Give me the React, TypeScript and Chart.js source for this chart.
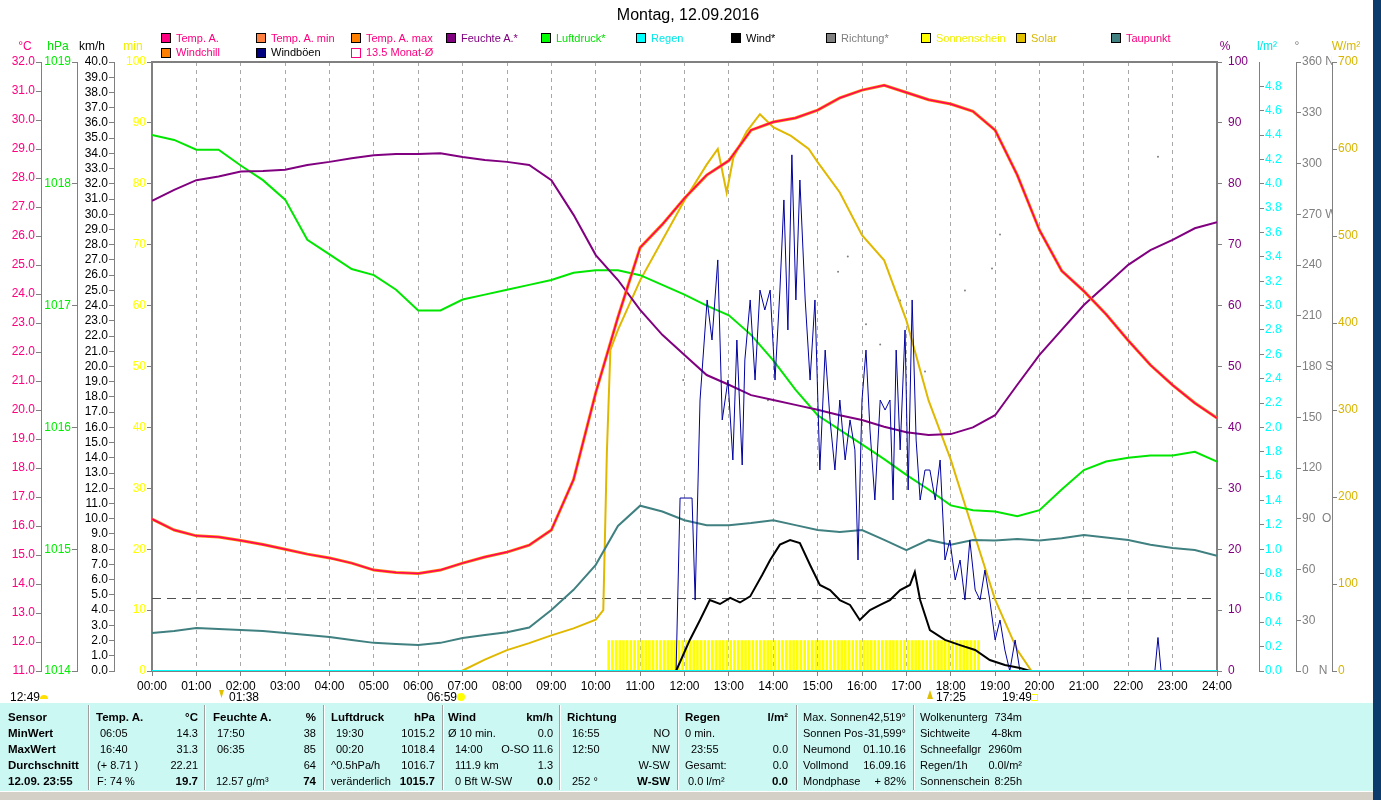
import React, { useEffect, useRef } from "react";
import { Chart, registerables } from "chart.js";
Chart.register(...registerables);

const FONT = "'Liberation Sans', Arial, sans-serif";

// ---------- DATA ----------
const hours = [0,0.5,1,1.5,2,2.5,3,3.5,4,4.5,5,5.5,6,6.5,7,7.5,8,8.5,9,9.5,10,10.5,11,11.5,12,12.5,13,13.5,14,14.5,15,15.5,16,16.5,17,17.5,18,18.5,19,19.5,20,20.5,21,21.5,22,22.5,23,23.5,24];
const tempA = [16.24,15.86,15.66,15.62,15.5,15.36,15.2,15.03,14.9,14.72,14.48,14.4,14.36,14.48,14.72,14.93,15.1,15.34,15.86,17.6,20.6,23.2,25.6,26.4,27.3,28.1,28.6,29.65,29.93,30.07,30.34,30.76,31.03,31.2,30.95,30.7,30.55,30.3,29.65,28.1,26.2,24.8,24.1,23.3,22.4,21.55,20.86,20.24,19.72];
const windchill = [16.24,15.86,15.66,15.62,15.5,15.36,15.2,15.03,14.9,14.72,14.48,14.4,14.36,14.48,14.72,14.93,15.1,15.34,15.86,17.6,20.6,23.2,25.6,26.4,27.3,28.1,28.6,29.65,29.93,30.07,30.34,30.76,31.03,31.2,30.95,30.7,30.55,30.3,29.65,28.1,26.2,24.8,24.1,23.3,22.4,21.55,20.86,20.24,19.72];
const humidity = [77.2,79,80.6,81.2,82,82.1,82.3,83.1,83.6,84.2,84.7,84.9,84.9,85,84.4,83.9,83.6,83.1,80.6,74.9,68.3,64.2,59.3,55.2,51.9,48.6,47,45.3,44.5,43.7,42.9,42,41.2,40.1,39.2,38.75,38.9,40,42,47,51.9,56,60.1,63.4,66.7,69.1,70.8,72.7,73.7];
const pressure = [1018.4,1018.36,1018.28,1018.28,1018.15,1018.03,1017.87,1017.54,1017.42,1017.3,1017.25,1017.13,1016.96,1016.96,1017.05,1017.09,1017.13,1017.17,1017.21,1017.27,1017.29,1017.29,1017.25,1017.17,1017.09,1017.0,1016.92,1016.76,1016.55,1016.31,1016.1,1015.98,1015.86,1015.74,1015.61,1015.49,1015.36,1015.32,1015.31,1015.27,1015.32,1015.49,1015.65,1015.72,1015.75,1015.77,1015.77,1015.8,1015.72];
const dewPoint = [12.31,12.38,12.48,12.45,12.41,12.38,12.31,12.24,12.17,12.07,11.97,11.93,11.9,11.97,12.14,12.24,12.34,12.5,13.1,13.8,14.66,16.0,16.7,16.5,16.2,16.03,16.03,16.1,16.2,16.03,15.86,15.79,15.86,15.52,15.17,15.52,15.35,15.52,15.5,15.55,15.5,15.58,15.69,15.6,15.52,15.35,15.24,15.17,14.97];

const solarTimes = [6.98,7.5,8,8.5,9,9.5,10,10.17,10.25,10.33,10.5,11,11.5,12,12.5,12.75,12.95,13.1,13.4,13.7,14.0,14.4,14.8,15.0,15.5,16,16.5,17,17.5,18,18.5,19,19.5,19.82];
const solarValues = [0,13,24,32,41,49,59,70,250,369,392,449,495,541,582,600,550,590,620,640,625,615,600,585,550,501,472,403,311,243,162,82,24,0];

const windTimes = [11.81,12.12,12.35,12.57,12.8,13.03,13.25,13.48,13.75,13.93,14.15,14.38,14.6,14.83,15.05,15.28,15.5,15.73,15.95,16.18,16.41,16.63,16.86,17.08,17.19,17.31,17.53,17.87,18.21,18.55,18.88,19.22,19.56,19.79];
const windValues = [0,2.04,3.35,4.66,4.4,4.8,4.5,4.9,6.3,7.29,8.3,8.6,8.4,6.96,5.65,5.32,4.66,4.34,3.35,4.0,4.34,4.66,5.32,5.65,6.5,4.66,2.69,2.04,1.7,1.38,0.72,0.39,0.2,0];

const gustTimes = [11.81,11.9,12.17,12.24,12.35,12.51,12.62,12.75,12.85,12.98,13.09,13.18,13.3,13.36,13.48,13.59,13.7,13.81,13.93,14.04,14.15,14.24,14.33,14.42,14.51,14.6,14.72,14.83,14.94,15.05,15.17,15.28,15.39,15.5,15.62,15.73,15.84,15.91,16.0,16.09,16.18,16.29,16.41,16.52,16.63,16.7,16.77,16.86,16.97,17.04,17.13,17.22,17.31,17.42,17.53,17.65,17.76,17.87,17.98,18.1,18.21,18.32,18.43,18.55,18.66,18.77,18.88,19.0,19.11,19.22,19.33,19.45,19.56,19.7,22.6,22.67,22.74];
const gustValues = [0,11.36,11.36,4.66,17.8,24.37,21.74,27.0,16.49,19.11,13.86,21.74,13.53,20.43,24.37,19.11,25.02,23.71,25.02,19.11,25.02,30.94,22.4,33.9,24.37,32.25,24.37,19.11,24.37,13.2,21.08,16.49,13.2,17.8,13.86,16.49,14.52,7.29,17.8,21.08,15.83,11.23,17.8,17.14,17.8,11.23,21.08,14.52,22.4,11.89,24.37,15.17,11.23,13.2,13.2,11.23,13.86,7.29,8.6,5.98,7.29,4.66,8.6,5.32,4.66,6.63,4.66,2.04,3.35,1.38,0,2.04,0,0,0,2.2,0];

const dirTimes = [11.97,13.88,15.46,15.68,16.09,16.41,16.86,17.42,18.32,18.93,19.11,22.67];
const dirValues = [172,160,236,245,205,193,219,177,225,238,258,304];

const rainTimes = [0, 24];
const rainValues = [0, 0];

const monthAvgTimes = [0, 24];
const monthAvgValues = [13.5, 13.5];

const sunStart = 10.25; // first 5-minute slot with sunshine
const sunshineMinutes = [5,5,5,5,5,5,5,5,5,5,5,5,5,5,5,5,5,5,5,5,5,5,5,5,5,5,5,5,5,5,5,5,5,5,5,5,5,5,5,5,5,5,5,5,5,5,5,5,5,5,5,5,5,5,5,5,5,5,5,5,5,5,5,5,5,5,5,5,5,5,5,5,5,5,5,5,5,5,5,5,5,5,5,5,5,5,5,5,5,5,5,5,5,5,5,5,5,5,5,5,5];

const dirLabels: Record<number, string> = { 360: "360 N", 270: "270 W", 180: "180 S", 90: "90  O", 0: "0   N" };

function pts(xs: number[], ys: (number | null)[]) {
  return xs.map((x, i) => ({ x, y: ys[i] }));
}

const GRAY = "#808080";

function yAxis(position: string, weight: number, min: number, max: number, step: number, color: string, width: number, fmt: (v: number) => string, tickPad = 1, borderW = 1) {
  return {
    type: "linear",
    axis: "y",
    position,
    weight,
    min,
    max,
    afterFit: (s: any) => { s.width = width; },
    ticks: { stepSize: step, autoSkip: false, color, font: { family: FONT, size: 12 }, padding: tickPad, callback: (v: any) => fmt(Number(v)) },
    grid: { drawOnChartArea: false, tickLength: 5, tickColor: GRAY, color: GRAY },
    border: { color: GRAY, width: borderW },
  };
}

const legendRow1 = [
  { x: 161, box: "#ff0080", text: "Temp. A.", color: "#ff0080" },
  { x: 256, box: "#ff8040", text: "Temp. A. min", color: "#ff0080" },
  { x: 351, box: "#ff8000", text: "Temp. A. max", color: "#ff0080" },
  { x: 446, box: "#800080", text: "Feuchte A.*", color: "#800080" },
  { x: 541, box: "#00ff00", text: "Luftdruck*", color: "#00e000" },
  { x: 636, box: "#00ffff", text: "Regen", color: "#00e8e8" },
  { x: 731, box: "#000000", text: "Wind*", color: "#000000" },
  { x: 826, box: "#808080", text: "Richtung*", color: "#808080" },
  { x: 921, box: "#ffff00", text: "Sonnenschein", color: "#f0f000" },
  { x: 1016, box: "#e0c000", text: "Solar", color: "#d8b800" },
  { x: 1111, box: "#408080", text: "Taupunkt", color: "#ff0080" },
];
const legendRow2 = [
  { x: 161, box: "#ff8000", text: "Windchill", color: "#ff0080" },
  { x: 256, box: "#000080", text: "Windböen", color: "#000000" },
  { x: 351, box: "", text: "13.5 Monat-Ø", color: "#ff0080" },
];

const unitLabels = [
  { x: 25, text: "°C", color: "#ff0080" },
  { x: 58, text: "hPa", color: "#00e000" },
  { x: 92, text: "km/h", color: "#000000" },
  { x: 133, text: "min", color: "#f0f000" },
  { x: 1225, text: "%", color: "#800080" },
  { x: 1267, text: "l/m²", color: "#00e8e8" },
  { x: 1297, text: "°", color: "#808080" },
  { x: 1346, text: "W/m²", color: "#d8b800" },
];

type Cell = [number, number, string, "L" | "R", boolean?];
const tableCells: Cell[] = [
  [8, 0, "Sensor", "L", true], [8, 1, "MinWert", "L", true], [8, 2, "MaxWert", "L", true], [8, 3, "Durchschnitt", "L", true], [8, 4, "12.09. 23:55", "L", true],
  [96, 0, "Temp. A.", "L", true], [198, 0, "°C", "R", true],
  [100, 1, "06:05", "L"], [198, 1, "14.3", "R"],
  [100, 2, "16:40", "L"], [198, 2, "31.3", "R"],
  [97, 3, "(+ 8.71 )", "L"], [198, 3, "22.21", "R"],
  [97, 4, "F: 74 %", "L"], [198, 4, "19.7", "R", true],
  [213, 0, "Feuchte A.", "L", true], [316, 0, "%", "R", true],
  [217, 1, "17:50", "L"], [316, 1, "38", "R"],
  [217, 2, "06:35", "L"], [316, 2, "85", "R"],
  [316, 3, "64", "R"],
  [216, 4, "12.57 g/m³", "L"], [316, 4, "74", "R", true],
  [331, 0, "Luftdruck", "L", true], [435, 0, "hPa", "R", true],
  [336, 1, "19:30", "L"], [435, 1, "1015.2", "R"],
  [336, 2, "00:20", "L"], [435, 2, "1018.4", "R"],
  [331, 3, "^0.5hPa/h", "L"], [435, 3, "1016.7", "R"],
  [331, 4, "veränderlich", "L"], [435, 4, "1015.7", "R", true],
  [448, 0, "Wind", "L", true], [553, 0, "km/h", "R", true],
  [448, 1, "Ø 10 min.", "L"], [553, 1, "0.0", "R"],
  [455, 2, "14:00", "L"], [553, 2, "O-SO 11.6", "R"],
  [455, 3, "111.9 km", "L"], [553, 3, "1.3", "R"],
  [455, 4, "0 Bft W-SW", "L"], [553, 4, "0.0", "R", true],
  [567, 0, "Richtung", "L", true],
  [572, 1, "16:55", "L"], [670, 1, "NO", "R"],
  [572, 2, "12:50", "L"], [670, 2, "NW", "R"],
  [670, 3, "W-SW", "R"],
  [572, 4, "252 °", "L"], [670, 4, "W-SW", "R", true],
  [685, 0, "Regen", "L", true], [788, 0, "l/m²", "R", true],
  [685, 1, "0 min.", "L"],
  [691, 2, "23:55", "L"], [788, 2, "0.0", "R"],
  [685, 3, "Gesamt:", "L"], [788, 3, "0.0", "R"],
  [688, 4, "0.0 l/m²", "L"], [788, 4, "0.0", "R", true],
  [803, 0, "Max. Sonnen", "L"], [906, 0, "42,519°", "R"],
  [803, 1, "Sonnen Pos", "L"], [906, 1, "-31,599°", "R"],
  [803, 2, "Neumond", "L"], [906, 2, "01.10.16", "R"],
  [803, 3, "Vollmond", "L"], [906, 3, "16.09.16", "R"],
  [803, 4, "Mondphase", "L"], [906, 4, "+ 82%", "R"],
  [920, 0, "Wolkenunterg", "L"], [1022, 0, "734m", "R"],
  [920, 1, "Sichtweite", "L"], [1022, 1, "4-8km", "R"],
  [920, 2, "Schneefallgr", "L"], [1022, 2, "2960m", "R"],
  [920, 3, "Regen/1h", "L"], [1022, 3, "0.0l/m²", "R"],
  [920, 4, "Sonnenschein", "L"], [1022, 4, "8:25h", "R"],
];
const tableRowsY = [717, 733, 749, 765, 781];
const tableSeparators = [88, 204, 323, 442, 559, 677, 796, 913];

export default function App() {
  const ref = useRef<HTMLCanvasElement>(null);

  useEffect(() => {
    const sunData = sunshineMinutes.map((v, i) => ({ x: sunStart + (i + 0.5) / 12, y: v }));
    const common = { pointRadius: 0, xAxisID: "x", fill: false, tension: 0 };
    const chart = new Chart(ref.current as HTMLCanvasElement, {
      type: "line",
      data: {
        datasets: [
          { ...common, type: "line", label: "Temp. A.", data: pts(hours, tempA), borderColor: "#ff0060", borderWidth: 1.5, yAxisID: "yT", order: 1 },
          { ...common, type: "line", label: "Windchill", data: pts(hours, windchill), borderColor: "#ff8000", borderWidth: 3, yAxisID: "yT", order: 2 },
          { ...common, type: "line", label: "Regen", data: pts(rainTimes, rainValues), borderColor: "#00ffff", borderWidth: 2, yAxisID: "yR", order: 3 },
          { ...common, type: "line", label: "Wind", data: pts(windTimes, windValues), borderColor: "#000000", borderWidth: 2, yAxisID: "yW", order: 4 },
          { ...common, type: "line", label: "Windböen", data: pts(gustTimes, gustValues), borderColor: "#0000a0", borderWidth: 1, yAxisID: "yW", order: 5 },
          { ...common, type: "line", label: "Feuchte", data: pts(hours, humidity), borderColor: "#800080", borderWidth: 2, yAxisID: "yH", order: 6 },
          { ...common, type: "line", label: "Luftdruck", data: pts(hours, pressure), borderColor: "#00e600", borderWidth: 2, yAxisID: "yP", order: 7 },
          { ...common, type: "line", label: "Taupunkt", data: pts(hours, dewPoint), borderColor: "#408080", borderWidth: 2, yAxisID: "yT", order: 8 },
          { ...common, type: "line", label: "Solar", data: pts(solarTimes, solarValues), borderColor: "#e0b800", borderWidth: 2, yAxisID: "yS", order: 9 },
          { type: "line", label: "Richtung", data: pts(dirTimes, dirValues), showLine: false, pointRadius: 1, pointBackgroundColor: "#808080", pointBorderColor: "#808080", pointBorderWidth: 0, xAxisID: "x", yAxisID: "yD", order: 10 },
          { ...common, type: "line", label: "Monat", data: pts(monthAvgTimes, monthAvgValues), borderColor: "#505050", borderWidth: 1, borderDash: [9, 6], yAxisID: "yT", order: 11 },
          { type: "bar", label: "Sonnenschein", data: sunData, backgroundColor: "#ffff00", barThickness: 2, grouped: false, xAxisID: "x", yAxisID: "yM", order: 12 },
        ] as any,
      },
      options: {
        responsive: false,
        animation: false,
        events: [],
        layout: { padding: { top: 62, left: 0, right: 8, bottom: 0 } },
        plugins: { legend: { display: false }, tooltip: { enabled: false }, title: { display: false } },
        scales: {
          x: {
            type: "linear", axis: "x", position: "bottom", min: 0, max: 24, offset: false,
            afterFit: (s: any) => { s.height = 29; },
            ticks: { stepSize: 1, autoSkip: false, maxRotation: 0, color: "#000", font: { family: FONT, size: 12 }, padding: 3,
              callback: (v: any) => String(v).padStart(2, "0") + ":00" },
            grid: { color: "#a8a8a8", tickLength: 5, tickColor: GRAY, drawOnChartArea: true, offset: false },
            border: { color: GRAY, width: 2, dash: [4, 4] },
          },
          xTop: {
            type: "linear", axis: "x", position: "top", min: 0, max: 24, offset: false,
            afterFit: (s: any) => { s.height = 0; },
            ticks: { display: false },
            grid: { drawOnChartArea: false, drawTicks: false, offset: false },
            border: { color: GRAY, width: 2 },
          },
          yT: yAxis("left", 4, 11, 32, 1, "#ff0080", 41, (v) => v.toFixed(1)),
          yP: yAxis("left", 3, 1014, 1019, 1, "#00ee00", 36, (v) => v.toFixed(0)),
          yW: yAxis("left", 2, 0, 40, 1, "#000000", 37, (v) => v.toFixed(1)),
          yM: yAxis("left", 1, 0, 100, 10, "#ffff00", 38, (v) => v.toFixed(0), 1, 2),
          yH: yAxis("right", 1, 0, 100, 10, "#800080", 42, (v) => v.toFixed(0), 6, 2),
          yR: { ...yAxis("right", 2, 0, 5, 0.2, "#00ffff", 37, (v) => (v > 4.9 ? "" : v.toFixed(1))),
            grid: { drawOnChartArea: false, tickLength: 5, color: GRAY, tickColor: (c: any) => (c.tick && c.tick.value > 4.9 ? "rgba(0,0,0,0)" : GRAY) } },
          yD: yAxis("right", 3, 0, 360, 30, "#808080", 36, (v) => dirLabels[Math.round(v)] ?? String(Math.round(v))),
          yS: yAxis("right", 4, 0, 700, 100, "#d8b400", 41, (v) => v.toFixed(0)),
        } as any,
      },
    } as any);
    return () => chart.destroy();
  }, []);

  const txt = (extra: React.CSSProperties): React.CSSProperties => ({
    position: "absolute", whiteSpace: "nowrap", lineHeight: "14px", fontSize: 11, fontFamily: FONT, ...extra,
  });

  return (
    <div style={{ position: "absolute", left: 0, top: 0, width: 1381, height: 800, background: "#fff", overflow: "hidden", fontFamily: FONT }}>
      <canvas ref={ref} width={1381} height={700} style={{ position: "absolute", left: 0, top: 0, width: 1381, height: 700 }} />
      <div style={txt({ left: 688, top: 6, fontSize: 16, lineHeight: "18px", transform: "translateX(-50%)", color: "#000" })}>Montag, 12.09.2016</div>
      {legendRow1.map((l) => (
        <React.Fragment key={l.text}>
          <div style={{ position: "absolute", left: l.x, top: 33, width: 8, height: 8, background: l.box, border: "1px solid #000" }} />
          <div style={txt({ left: l.x + 15, top: 31, color: l.color })}>{l.text}</div>
        </React.Fragment>
      ))}
      {legendRow2.map((l) => (
        <React.Fragment key={l.text}>
          <div style={{ position: "absolute", left: l.x, top: 48, width: 8, height: 8, background: l.box || "transparent", border: l.box ? "1px solid #000" : "1px solid #ff0080" }} />
          <div style={txt({ left: l.x + 15, top: 45, color: l.color })}>{l.text}</div>
        </React.Fragment>
      ))}
      {unitLabels.map((u) => (
        <div key={u.text} style={txt({ left: u.x, top: 39, color: u.color, transform: "translateX(-50%)", fontSize: 12 })}>{u.text}</div>
      ))}
      <div style={txt({ left: 10, top: 690, color: "#000", fontSize: 12 })}>12:49</div>
      <div style={{ position: "absolute", left: 40, top: 695, width: 8, height: 4, borderRadius: "4px 4px 0 0", background: "#ffe000" }} />
      <div style={{ position: "absolute", left: 219, top: 690, width: 5, height: 8, background: "#e0c000", clipPath: "polygon(0 0,100% 0,50% 100%)" }} />
      <div style={txt({ left: 229, top: 690, color: "#000", fontSize: 12 })}>01:38</div>
      <div style={txt({ left: 427, top: 690, color: "#000", fontSize: 12 })}>06:59</div>
      <div style={{ position: "absolute", left: 457, top: 693, width: 8, height: 8, borderRadius: 4, background: "#ffff00" }} />
      <div style={{ position: "absolute", left: 927, top: 690, width: 6, height: 9, background: "#e0c000", clipPath: "polygon(50% 0,100% 100%,0 100%)" }} />
      <div style={txt({ left: 936, top: 690, color: "#000", fontSize: 12 })}>17:25</div>
      <div style={txt({ left: 1002, top: 690, color: "#000", fontSize: 12 })}>19:49</div>
      <div style={{ position: "absolute", left: 1031, top: 694, width: 5, height: 5, border: "1px solid #ffff00" }} />
      <div style={{ position: "absolute", left: 0, top: 703, width: 1373, height: 88, background: "#ccf8f4" }} />
      {tableSeparators.map((x) => (
        <React.Fragment key={x}>
          <div style={{ position: "absolute", left: x, top: 705, width: 1, height: 85, background: "#a0a0a0" }} />
          <div style={{ position: "absolute", left: x + 1, top: 705, width: 1, height: 85, background: "#ffffff" }} />
        </React.Fragment>
      ))}
      {tableCells.map((c, i) => (
        <div key={i} style={txt({ left: c[0], top: tableRowsY[c[1]] - 7, color: "#000", fontWeight: c[4] ? "bold" : "normal", fontSize: c[4] ? 11.5 : 11,
          transform: c[3] === "R" ? "translateX(-100%)" : undefined })}>{c[2]}</div>
      ))}
      <div style={{ position: "absolute", left: 0, top: 791, width: 1373, height: 9, background: "#d4d0c8", borderTop: "1px solid #fff" }} />
      <div style={{ position: "absolute", left: 1373, top: 0, width: 8, height: 800, background: "#0b3a6c" }} />
    </div>
  );
}
